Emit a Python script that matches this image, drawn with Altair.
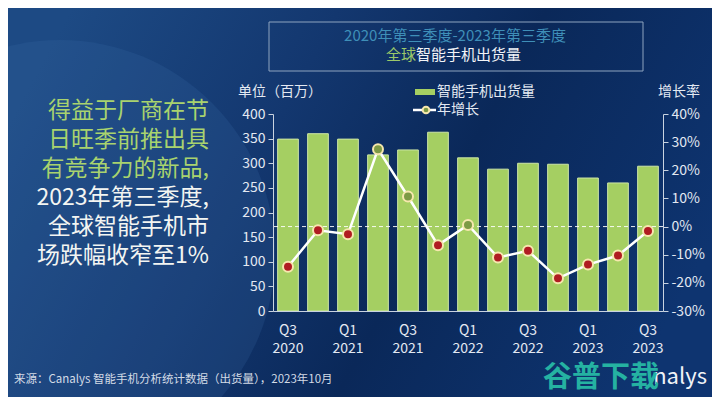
import altair as alt
import pandas as pd

FONT = "Noto Sans CJK SC"

quarters = ["Q3 2020", "Q4 2020", "Q1 2021", "Q2 2021", "Q3 2021", "Q4 2021", "Q1 2022",
            "Q2 2022", "Q3 2022", "Q4 2022", "Q1 2023", "Q2 2023", "Q3 2023"]
shipments = [349, 360, 349, 317, 327, 363, 311, 288, 300, 298, 270, 260, 294]
growth = [-0.143, -0.013, -0.027, 0.275, 0.107, -0.066, 0.006, -0.110, -0.086, -0.184, -0.135, -0.103, -0.016]

left_values = [0, 50, 100, 150, 200, 250, 300, 350, 400]
right_values = [-0.3, -0.2, -0.1, 0.0, 0.1, 0.2, 0.3, 0.4]

title_line1 = "2020年第三季度-2023年第三季度"
title_green = "全球"
title_white = "智能手机出货量"
side_green = ["得益于厂商在节", "日旺季前推出具", "有竞争力的新品,"]
side_white = ["2023年第三季度,", "全球智能手机市", "场跌幅收窄至1%"]
left_title = "单位（百万）"
right_title = "增长率"
legend_bar = "智能手机出货量"
legend_line = "年增长"
source = "来源：Canalys 智能手机分析统计数据（出货量），2023年10月"
logo = "nalys"
watermark = "谷普下载"

df = pd.DataFrame({"quarter": quarters, "shipments": shipments, "growth": growth})
one = pd.DataFrame({"k": [0]})

# layout (page coordinates of plot origin)
OX, OY = 273, 114
W, H = 390, 197
PAD = {"left": 265, "top": 106, "right": 49, "bottom": 86}

AX_COL = "#c9d3e0"
LAB_COL = "#e3e9f2"


def px(x):
    return x - OX


def py(y):
    return y - OY


def text(s, x, y, size, color, align="left", weight="normal"):
    return alt.Chart(one).mark_text(
        text=s, align=align, baseline="middle", fontSize=size, color=color,
        font=FONT, fontWeight=weight
    ).encode(x=alt.value(px(x)), y=alt.value(py(y)))


bg = alt.Chart(one).mark_rect(
    fill=alt.Gradient(
        gradient="linear",
        stops=[
            alt.GradientStop(color="#1d4a84", offset=0),
            alt.GradientStop(color="#13376f", offset=0.35),
            alt.GradientStop(color="#0a2859", offset=0.62),
            alt.GradientStop(color="#0e3470", offset=1),
        ],
        x1=0, x2=1, y1=0.3, y2=0.6,
    )
).encode(x=alt.value(-PAD["left"]), x2=alt.value(W + PAD["right"]),
         y=alt.value(-PAD["top"]), y2=alt.value(H + PAD["bottom"]))

deco = alt.Chart(one).mark_arc(
    radius=215, theta=0, theta2=6.2832, fill="#3a6cab", opacity=0.2
).encode(x=alt.value(px(60)), y=alt.value(py(255)))

title_box = alt.Chart(one).mark_rect(
    fill="transparent", stroke="#8ea4bf", strokeWidth=1
).encode(x=alt.value(px(269)), x2=alt.value(px(643)),
         y=alt.value(py(22)), y2=alt.value(py(71)))

texts = [
    text(title_line1, 455, 36, 15, "#3f8fb8", align="center"),
    text(title_green, 416, 55, 15, "#9cc86a", align="right"),
    text(title_white, 416, 55, 15, "#f2f4f7", align="left"),
    text(left_title, 238, 92, 14, LAB_COL),
    text(right_title, 700, 92, 14, LAB_COL, align="right"),
    text(legend_bar, 437, 92, 14, LAB_COL),
    text(legend_line, 437, 110, 14, LAB_COL),
    text(source, 14, 380, 11.5, "#d3dbe6"),
    text(logo, 707, 377, 22, "#f0f3f7", align="right"),
    text(watermark, 601, 378, 29, "#25b2a2", align="center", weight="bold"),
]
for i, s in enumerate(side_green):
    texts.append(text(s, 209, 111 + 29 * i, 23, "#a9d36e", align="right"))
for i, s in enumerate(side_white):
    texts.append(text(s, 209, 198 + 29 * i, 23, "#f3f5f2", align="right"))

leg_rect = alt.Chart(one).mark_rect(color="#a5cf62").encode(
    x=alt.value(px(415)), x2=alt.value(px(435)), y=alt.value(py(89)), y2=alt.value(py(95)))
leg_rule = alt.Chart(one).mark_rule(color="white", strokeWidth=2.5).encode(
    x=alt.value(px(413)), x2=alt.value(px(436)), y=alt.value(py(110)))
leg_pt = alt.Chart(one).mark_circle(
    size=45, fill="#7d9a45", stroke="#f6e7ae", strokeWidth=2, opacity=1
).encode(x=alt.value(px(426)), y=alt.value(py(110)))

axis_common = dict(
    title=None, grid=False, labelColor=LAB_COL, labelFontSize=14, labelFont=FONT,
    domainColor=AX_COL, tickColor=AX_COL, tickSize=5, labelPadding=3, zindex=1,
    labelOverlap=False,
)

x = alt.X(
    "quarter:N", sort=quarters,
    scale=alt.Scale(paddingInner=0.31, paddingOuter=0.155),
    axis=alt.Axis(
        title=None, ticks=False, labelAngle=0, labelColor=LAB_COL, labelFontSize=14,
        labelFont=FONT, labelPadding=12, labelLineHeight=18, domainColor=AX_COL, zindex=1,
        labelOverlap=False,
        labelExpr="(indexof(datum.value,'Q2')>=0 || indexof(datum.value,'Q4')>=0) ? '' : split(datum.value,' ')",
    ),
)

bars = alt.Chart(df).mark_bar(color="#a5cf62", stroke="#cde6a6", strokeWidth=1).encode(
    x=x,
    y=alt.Y("shipments:Q", scale=alt.Scale(domain=[0, 400]),
            axis=alt.Axis(orient="left", values=left_values, **axis_common)),
)

right_scale = alt.Scale(domain=[-0.3, 0.4])
right_axis = alt.Axis(orient="right", values=right_values, format=".0%",
                      labelExpr="replace(datum.label, '−', '-')", **axis_common)
gy = alt.Y("growth:Q", scale=right_scale, axis=right_axis)

line = alt.Chart(df).mark_line(color="white", strokeWidth=2.5).encode(x=x, y=gy)
zero = alt.Chart(one).mark_rule(color="white", strokeDash=[4, 3], strokeWidth=1, opacity=0.9).encode(
    y=alt.YDatum(0, type="quantitative", scale=right_scale, axis=right_axis))
pts = alt.Chart(df).mark_circle(size=100, stroke="#f6e7ae", strokeWidth=2, opacity=1).encode(
    x=x, y=gy,
    fill=alt.condition("datum.growth < 0", alt.value("#b01c22"), alt.value("#7d9a45")),
)
growth_layer = alt.layer(line, zero, pts)

chart = alt.layer(
    bg, deco, title_box, *texts, leg_rect, leg_rule, leg_pt, bars, growth_layer
).resolve_scale(y="independent").properties(
    width=W, height=H, padding=PAD,
    autosize=alt.AutoSizeParams(type="none"),
    background="#0b2a5e",
).configure_view(strokeWidth=0).configure_axis(zindex=1)

chart.save("out.html", embed_options={"renderer": "svg", "actions": False})
